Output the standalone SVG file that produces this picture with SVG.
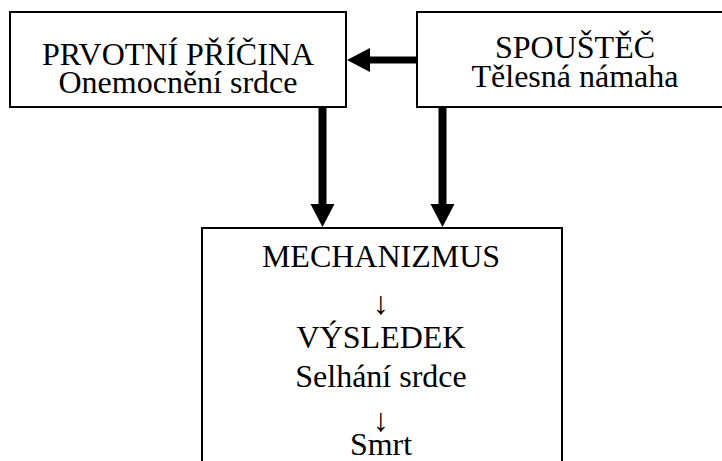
<svg xmlns="http://www.w3.org/2000/svg" width="722" height="461" viewBox="0 0 722 461">
  <style>
    .box { fill: #fff; stroke: #000; stroke-width: 2; }
    .lbl { font-family: "Liberation Serif", "Times New Roman", serif; font-size: 32px; fill: #000; text-anchor: middle; }
    .shaft { stroke: #000; fill: none; }
    .head { fill: #000; stroke: none; }
  </style>
  <rect width="722" height="461" fill="#fff"/>

  <g id="node-cause">
    <rect class="box" x="10" y="12" width="336" height="95"/>
    <text class="lbl" x="178" y="65">PRVOTNÍ PŘÍČINA</text>
    <text class="lbl" x="178" y="93">Onemocnění srdce</text>
  </g>

  <g id="node-trigger">
    <rect class="box" x="417" y="12" width="320" height="95"/>
    <text class="lbl" x="575" y="58">SPOUŠTĚČ</text>
    <text class="lbl" x="575" y="87">Tělesná námaha</text>
  </g>

  <g id="node-mechanism">
    <rect class="box" x="202" y="228" width="360" height="260"/>
    <text class="lbl" x="381" y="267">MECHANIZMUS</text>
    <text class="lbl" x="381" y="314">↓</text>
    <text class="lbl" x="381" y="348">VÝSLEDEK</text>
    <text class="lbl" x="381" y="387">Selhání srdce</text>
    <text class="lbl" x="381" y="431">↓</text>
    <text class="lbl" x="381" y="455">Smrt</text>
  </g>

  <g id="connectors">
    <!-- trigger -> primary cause -->
    <line class="shaft" x1="417" y1="60" x2="368" y2="60" stroke-width="7"/>
    <polygon class="head" points="347,60 370,48 370,72"/>
    <!-- primary cause -> mechanism -->
    <line class="shaft" x1="322.5" y1="107" x2="322.5" y2="206" stroke-width="8"/>
    <polygon class="head" points="310.5,204 334.5,204 322.5,227"/>
    <!-- trigger -> mechanism -->
    <line class="shaft" x1="442.5" y1="107" x2="442.5" y2="206" stroke-width="8"/>
    <polygon class="head" points="430.5,204 454.5,204 442.5,227"/>
  </g>
</svg>
